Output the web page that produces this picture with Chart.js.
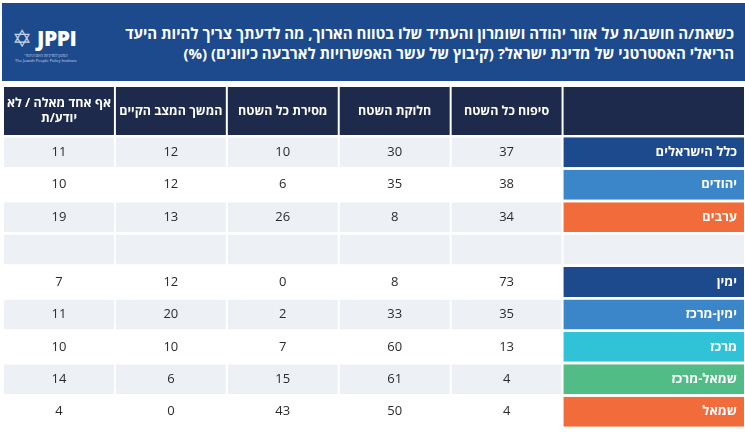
<!DOCTYPE html>
<html lang="he">
<head>
<meta charset="utf-8">
<script src="https://cdn.jsdelivr.net/npm/chart.js@4.4.1/dist/chart.umd.min.js"></script>
<style>
  body { margin: 0; width: 745px; height: 432px; background: #fff; position: relative; overflow: hidden; font-family: "Open Sans", "Liberation Sans", sans-serif; }
  #band { position: absolute; left: 2px; top: 3px; width: 743px; height: 78px; background: #1c4a8d; }
  #title { position: absolute; right: 11px; top: 20px; direction: rtl; text-align: right; color: #fff; font-weight: 700; font-size: 15px; line-height: 20px; white-space: nowrap; }
  #logo { position: absolute; left: 10px; top: 22px; color: #fff; }
  #logo .star { position: absolute; left: 0; top: 1px; font-size: 24px; color: #c7d1e4; line-height: 24px; }
  #logo .name { position: absolute; left: 25px; top: 0; font-family: "Open Sans", sans-serif; font-weight: 800; font-size: 21px; line-height: 26px; letter-spacing: -0.5px; }
  #logo .sub { position: absolute; left: 2px; width: 64px; text-align: center; font-size: 4px; line-height: 4px; color: #d8deea; white-space: nowrap; }
  #head { position: absolute; left: 3px; top: 87px; width: 742px; height: 48px; }
  #body { position: absolute; left: 3px; top: 136px; width: 742px; height: 292px; }
</style>
</head>
<body>
<div id="band">
  <div id="logo">
    <span class="star">✡</span>
    <span class="name">JPPI</span>
    <div class="sub" style="top:29px">המכון למדיניות העם היהודי</div>
    <div class="sub" style="top:34px">The Jewish People Policy Institute</div>
  </div>
  <div id="title">כשאת/ה חושב/ת על אזור יהודה ושומרון והעתיד שלו בטווח הארוך, מה לדעתך צריך להיות היעד<br>הריאלי האסטרטגי של מדינת ישראל? (קיבוץ של עשר האפשרויות לארבעה כיוונים) (%)</div>
</div>
<div id="head"><canvas id="headChart"></canvas></div>
<div id="body"><canvas id="bodyChart"></canvas></div>
<script>
// עמודות מימין לשמאל
const columns = ['סיפוח כל השטח', 'חלוקת השטח', 'מסירת כל השטח', 'המשך המצב הקיים', ['אף אחד מאלה / לא', 'יודע/ת']];
const groups = ['כלל הישראלים', 'יהודים', 'ערבים', '', 'ימין', 'ימין-מרכז', 'מרכז', 'שמאל-מרכז', 'שמאל'];

const annex     = [37, 38, 34, null, 73, 35, 13, 4, 4];
const partition = [30, 35, 8, null, 8, 33, 60, 61, 50];
const withdraw  = [10, 6, 26, null, 0, 2, 7, 15, 43];
const statusQuo = [12, 12, 13, null, 12, 20, 10, 6, 0];
const noneOf    = [11, 10, 19, null, 7, 11, 10, 14, 4];

const values = [annex, partition, withdraw, statusQuo, noneOf];

// עיצוב
const groupColors = ['#1c4a8d', '#3a86c8', '#f26b3a', null, '#1c4a8d', '#3a86c8', '#30c3d8', '#52bc87', '#f26b3a'];
const stripe = [1, 0, 1, 1, 0, 1, 0, 1, 0];
const GRAY = '#edf1f6';
const NAVY = '#1d2a4b';
const LABEL_W = 1.63;
const X_MAX = LABEL_W + columns.length;

// עמודה 0 = תוויות, 1..5 = נתונים
function colRange(c) {
  if (c === 0) return [0, LABEL_W];
  return [LABEL_W + c - 1, LABEL_W + c];
}

const cellText = {
  id: 'cellText',
  afterDatasetsDraw(chart, args, opts) {
    const ctx = chart.ctx;
    chart.data.datasets.forEach((ds, di) => {
      chart.getDatasetMeta(di).data.forEach((bar, i) => {
        const t = opts.text(di, i);
        if (t == null || t === '') return;
        const left = Math.min(bar.x, bar.base), right = Math.max(bar.x, bar.base);
        const lines = Array.isArray(t) ? t : [String(t)];
        ctx.save();
        ctx.fillStyle = opts.color(di);
        ctx.font = opts.font(di);
        ctx.direction = 'rtl';
        ctx.textBaseline = 'middle';
        let x = (left + right) / 2;
        if (opts.alignRight && opts.alignRight(di)) {
          ctx.textAlign = 'right';
          x = right - 8;
        } else {
          ctx.textAlign = 'center';
        }
        const lh = 15;
        lines.forEach((ln, k) => {
          ctx.fillText(ln, x, bar.y + (k - (lines.length - 1) / 2) * lh);
        });
        ctx.restore();
      });
    });
  }
};

function baseOptions(textOpts) {
  return {
    indexAxis: 'y',
    responsive: true,
    maintainAspectRatio: false,
    animation: false,
    layout: { padding: 0 },
    scales: {
      x: { type: 'linear', min: 0, max: X_MAX, reverse: true, display: false },
      y: { display: false }
    },
    plugins: {
      legend: { display: false },
      tooltip: { enabled: false },
      cellText: textOpts
    }
  };
}

function makeDatasets(nRows, bg, barPct) {
  const ds = [];
  for (let c = 0; c <= columns.length; c++) {
    ds.push({
      data: Array.from({ length: nRows }, () => colRange(c)),
      backgroundColor: (ctx) => bg(c, ctx.dataIndex),
      borderColor: '#ffffff',
      borderWidth: { left: 1, right: 1, top: 0, bottom: 0 },
      borderSkipped: false,
      inflateAmount: 0,
      grouped: false,
      categoryPercentage: 1,
      barPercentage: barPct
    });
  }
  return ds;
}

// שורת כותרת
new Chart(document.getElementById('headChart'), {
  type: 'bar',
  data: { labels: [''], datasets: makeDatasets(1, () => NAVY, 1) },
  options: baseOptions({
    text: (di) => di === 0 ? '' : columns[di - 1],
    color: () => '#ffffff',
    font: () => 'bold 12.5px "Open Sans", "Liberation Sans", sans-serif'
  }),
  plugins: [cellText]
});

// גוף הטבלה
new Chart(document.getElementById('bodyChart'), {
  type: 'bar',
  data: {
    labels: groups,
    datasets: makeDatasets(groups.length, (c, i) => {
      if (c === 0 && groupColors[i]) return groupColors[i];
      return stripe[i] ? GRAY : '#ffffff';
    }, 0.923)
  },
  options: baseOptions({
    text: (di, i) => di === 0 ? groups[i] : values[di - 1][i],
    color: (di) => di === 0 ? '#ffffff' : '#2b2b2b',
    font: (di) => di === 0 ? 'bold 13px "Open Sans", "Liberation Sans", sans-serif' : '13px "Open Sans", "Liberation Sans", sans-serif',
    alignRight: (di) => di === 0
  }),
  plugins: [cellText]
});
</script>
</body>
</html>
